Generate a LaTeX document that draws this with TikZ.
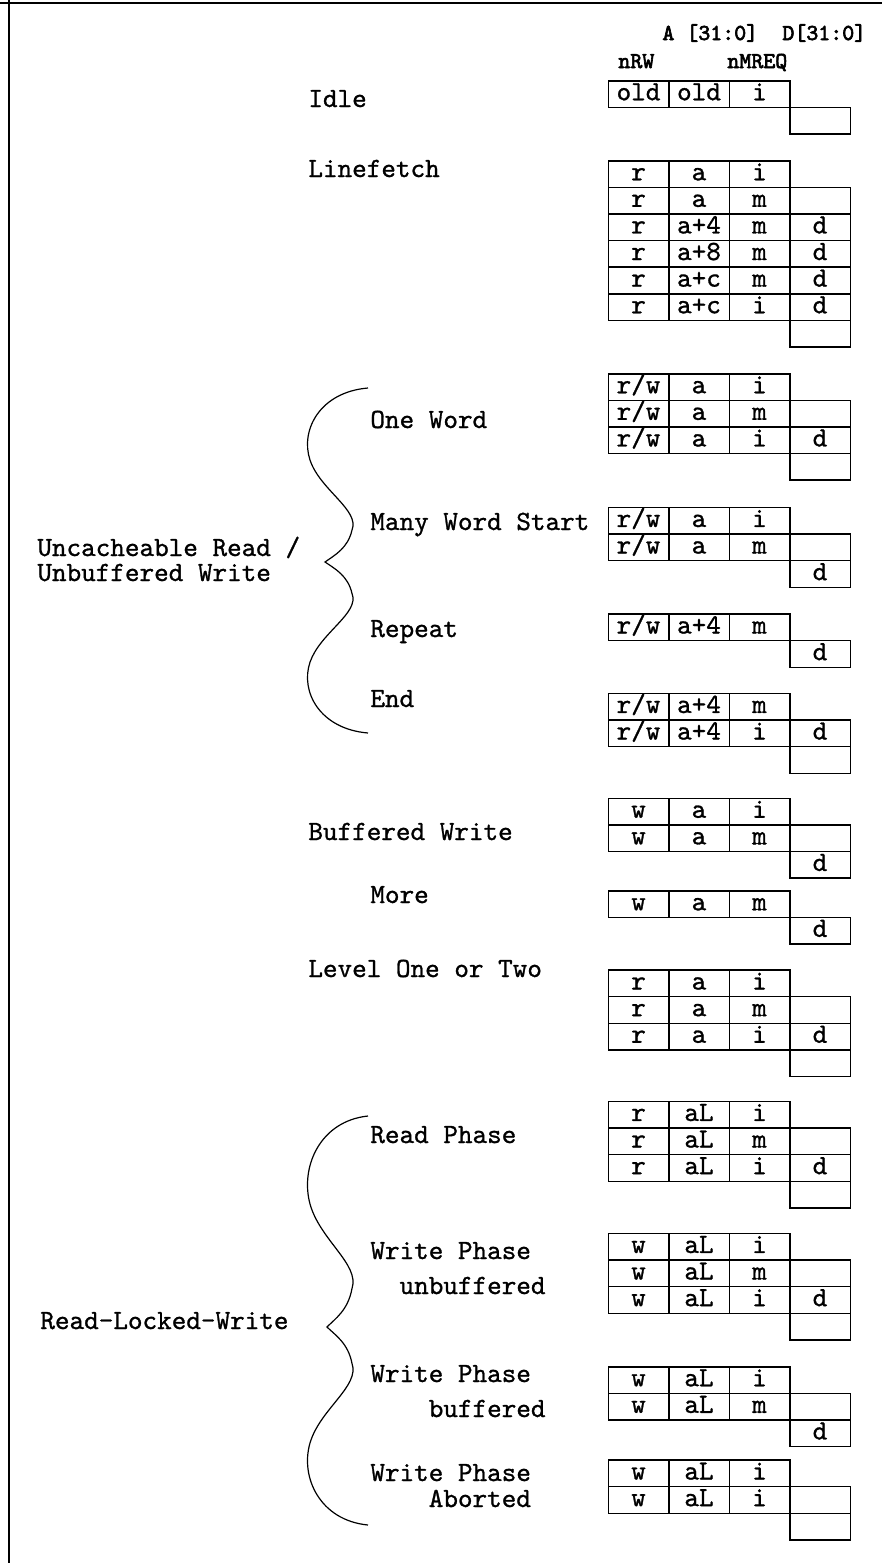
\documentclass[tikz,border=0pt]{standalone}
\usepackage{fontspec}
\newfontfamily\cmono{lmmono10-regular.otf}[FakeBold=1]
\newfontfamily\cmonob{lmmono10-regular.otf}[FakeBold=2.8]
\newcommand\arow[5]{%
  \node[cell] (#1a) at (607.5,#2) {#3};
  \node[cell] (#1b) at (668,#2) {#4};
  \node[cell] (#1c) at (728.5,#2) {#5};}
\newcommand\dbox[3]{\node[cell] (#1) at (789,#2) {#3};}
\newcommand\monotext{\cmono\fontsize{13.9}{16}\selectfont}
\newcommand\monohead{\cmonob\fontsize{11.4}{13}\selectfont}
\begin{document}
\begin{tikzpicture}[x=0.5pt,y=-0.5pt,
  cell/.style={draw, line width=0.75pt, anchor=north west, minimum width=30.25pt,
    minimum height=13.3pt, inner sep=0pt, text height=6.2pt, text depth=0pt,
    font=\monotext},
  lab/.style={anchor=base west, inner sep=0pt, font=\monotext},
  hdr/.style={anchor=base west, inner sep=0pt, font=\monohead},
  bracepath/.style={line width=0.6pt}]
\useasboundingbox (0,0) rectangle (891,1563);
% frame
\coordinate (tl) at (0,3); \coordinate (tr) at (882,3);
\coordinate (lt) at (9,0); \coordinate (lb) at (9,1563);
\draw[line width=1.4pt] (tl) -- (tr);
\draw[line width=1.2pt] (lt) -- (lb);
% headers
\node[hdr] (hA) at (662,40) {A [31:0]};
\node[hdr] (hD) at (782,40) {D[31:0]};
\node[hdr] (hRW) at (618,68) {nRW};
\node[hdr] (hMR) at (727,68) {nMREQ};
% Idle
\node[lab] (lIdle) at (308,107) {Idle};
\arow{id1}{80}{old}{old}{i}
\dbox{idd1}{106.6}{}
% Linefetch
\node[lab] (lLine) at (308,177) {Linefetch};
\arow{lf1}{160}{r}{a}{i}
\arow{lf2}{186.6}{r}{a}{m}
\arow{lf3}{213.2}{r}{a+4}{m}
\arow{lf4}{239.8}{r}{a+8}{m}
\arow{lf5}{266.4}{r}{a+c}{m}
\arow{lf6}{293}{r}{a+c}{i}
\dbox{lfd1}{186.6}{}
\dbox{lfd2}{213.2}{d}
\dbox{lfd3}{239.8}{d}
\dbox{lfd4}{266.4}{d}
\dbox{lfd5}{293}{d}
\dbox{lfd6}{319.6}{}
% Uncacheable
\node[lab] (lU1) at (37,556) {Uncacheable Read /};
\node[lab] (lU2) at (37,581) {Unbuffered Write};
\draw[bracepath] (368,388) .. controls (320,392) and (300,430) .. (310,460)
  .. controls (320,490) and (360,510) .. (352,530)
  .. controls (348,548) and (335,555) .. (325,562)
  .. controls (335,568.8) and (348,575.7) .. (352,593.5)
  .. controls (360,613.1) and (320,632.8) .. (310,662.2)
  .. controls (300,691.8) and (320,729) .. (368,733);
% One Word
\node[lab] (lOne) at (370,428) {One Word};
\arow{ow1}{373}{r/w}{a}{i}
\arow{ow2}{399.6}{r/w}{a}{m}
\arow{ow3}{426.2}{r/w}{a}{i}
\dbox{owd1}{399.6}{}
\dbox{owd2}{426.2}{d}
\dbox{owd3}{452.8}{}
% Many Word Start
\node[lab] (lMany) at (370,530) {Many Word Start};
\arow{mw1}{506.7}{r/w}{a}{i}
\arow{mw2}{533.3}{r/w}{a}{m}
\dbox{mwd1}{533.3}{}
\dbox{mwd2}{559.9}{d}
% Repeat
\node[lab] (lRep) at (370,637) {Repeat};
\arow{rp1}{613.3}{r/w}{a+4}{m}
\dbox{rpd1}{639.9}{d}
% End
\node[lab] (lEnd) at (370,707) {End};
\arow{en1}{692.7}{r/w}{a+4}{m}
\arow{en2}{719.3}{r/w}{a+4}{i}
\dbox{end1}{719.3}{d}
\dbox{end2}{745.9}{}
% Buffered Write
\node[lab] (lBuf) at (308,840) {Buffered Write};
\arow{bw1}{797.5}{w}{a}{i}
\arow{bw2}{824.1}{w}{a}{m}
\dbox{bwd1}{824.1}{}
\dbox{bwd2}{850.7}{d}
% More
\node[lab] (lMore) at (370,903) {More};
\arow{mo1}{890}{w}{a}{m}
\dbox{mod1}{916.6}{d}
% Level One or Two
\node[lab] (lLev) at (308,977) {Level One or Two};
\arow{lv1}{969.3}{r}{a}{i}
\arow{lv2}{995.9}{r}{a}{m}
\arow{lv3}{1022.5}{r}{a}{i}
\dbox{lvd1}{995.9}{}
\dbox{lvd2}{1022.5}{d}
\dbox{lvd3}{1049.1}{}
% Read-Locked-Write
\node[lab] (lRLW) at (40,1329) {Read-Locked-Write};
\draw[bracepath] (368,1116) .. controls (320,1121) and (300,1167) .. (310,1204)
  .. controls (320,1240) and (360,1264.5) .. (352,1288.5)
  .. controls (348,1310.5) and (335,1318.8) .. (327,1327)
  .. controls (335,1334.9) and (348,1342.8) .. (352,1363.4)
  .. controls (360,1386.2) and (320,1409) .. (310,1443)
  .. controls (300,1477.3) and (320,1520.4) .. (368,1525);
% Read Phase
\node[lab] (lRP) at (370,1143) {Read Phase};
\arow{rph1}{1100.7}{r}{aL}{i}
\arow{rph2}{1127.3}{r}{aL}{m}
\arow{rph3}{1153.9}{r}{aL}{i}
\dbox{rphd1}{1127.3}{}
\dbox{rphd2}{1153.9}{d}
\dbox{rphd3}{1180.5}{}
% Write Phase unbuffered
\node[lab] (lWP1) at (370,1259) {Write Phase};
\node[lab] (lWP1b) at (370,1294) {\ \ unbuffered};
\arow{wu1}{1232.7}{w}{aL}{i}
\arow{wu2}{1259.3}{w}{aL}{m}
\arow{wu3}{1285.9}{w}{aL}{i}
\dbox{wud1}{1259.3}{}
\dbox{wud2}{1285.9}{d}
\dbox{wud3}{1312.5}{}
% Write Phase buffered
\node[lab] (lWP2) at (370,1382) {Write Phase};
\node[lab] (lWP2b) at (370,1417) {\ \ \ \ buffered};
\arow{wb1}{1366}{w}{aL}{i}
\arow{wb2}{1392.6}{w}{aL}{m}
\dbox{wbd1}{1392.6}{}
\dbox{wbd2}{1419.2}{d}
% Write Phase Aborted
\node[lab] (lWP3) at (370,1481) {Write Phase};
\node[lab] (lWP3b) at (370,1507) {\ \ \ \ Aborted};
\arow{wa1}{1459.3}{w}{aL}{i}
\arow{wa2}{1485.9}{w}{aL}{i}
\dbox{wad1}{1485.9}{}
\dbox{wad2}{1512.5}{}
\end{tikzpicture}
\end{document}
